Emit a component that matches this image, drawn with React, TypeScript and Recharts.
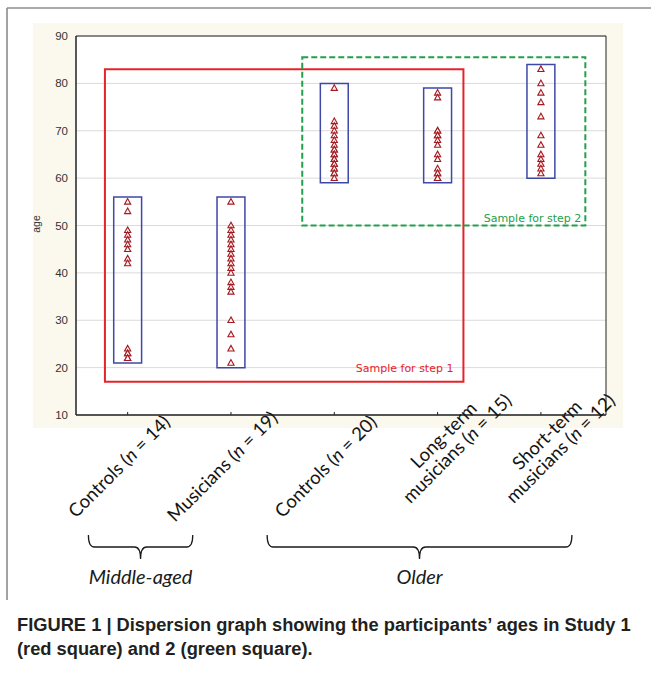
import React from "react";
import { ScatterChart, Scatter, XAxis, YAxis, CartesianGrid, ReferenceArea } from "recharts";

// ---- data ----
const groupPositions = [1, 2, 3, 4, 5];
const groupLabels: string[][] = [
  ["Controls (n = 14)"],
  ["Musicians (n = 19)"],
  ["Controls (n = 20)"],
  ["Long-term", "musicians (n = 15)"],
  ["Short-term", "musicians (n = 12)"],
];
const agesMiddleControls = [55, 53, 49, 48, 47, 46, 45, 43, 42, 24, 23, 23, 22, 22];
const agesMiddleMusicians = [55, 50, 49, 48, 47, 46, 45, 44, 43, 42, 41, 40, 38, 37, 36, 30, 27, 24, 21];
const agesOlderControls = [79, 72, 71, 70, 69, 68, 67, 66, 66, 65, 65, 64, 64, 63, 63, 62, 62, 61, 61, 60];
const agesLongTerm = [78, 77, 70, 70, 69, 69, 68, 67, 65, 64, 62, 61, 61, 60, 60];
const agesShortTerm = [83, 80, 78, 76, 73, 69, 67, 65, 64, 63, 62, 61];
const groupAges = [agesMiddleControls, agesMiddleMusicians, agesOlderControls, agesLongTerm, agesShortTerm];
const rangeLow = [21, 20, 59, 59, 60];
const rangeHigh = [56, 56, 80, 79, 84];
const yTicks = [10, 20, 30, 40, 50, 60, 70, 80, 90];
const xDomain = [0.5, 5.63];
const step1Box = { x1: 0.78, x2: 4.25, y1: 17, y2: 83 };
const step2Box = { x1: 2.69, x2: 5.43, y1: 50, y2: 85.5 };
const braceGroups = [
  { label: "Middle-aged", from: 0.62, to: 1.63 },
  { label: "Older", from: 2.35, to: 5.3 },
];

const BOX_HALF = 0.135;

const Triangle = (props: any) => {
  const { cx, cy } = props;
  if (cx == null || cy == null) return null;
  const pts = `${cx},${cy - 3.3} ${cx - 3.1},${cy + 2.3} ${cx + 3.1},${cy + 2.3}`;
  return <polygon points={pts} fill="#fff4f4" stroke="#a3191f" strokeWidth={1.1} />;
};

const renderLine = (line: string, key: number, x: number, y: number) => {
  const m = line.match(/^(.*\()n( = .*)$/);
  if (!m) {
    return (
      <tspan key={key} x={x} y={y}>
        {line}
      </tspan>
    );
  }
  return (
    <tspan key={key} x={x} y={y}>
      {m[1]}
      <tspan fontStyle="italic">n</tspan>
      {m[2]}
    </tspan>
  );
};

const XTick = (props: any) => {
  const { x, y, payload } = props;
  const idx = groupPositions.indexOf(payload.value);
  if (idx < 0) return null;
  const lines = groupLabels[idx];
  const axisY = y - 8;
  const two = lines.length > 1;
  const cx = x + (two ? 24 : -4);
  const cy = axisY + (two ? 38 : 56);
  return (
    <g>
      <line x1={x} x2={x} y1={axisY} y2={axisY - 3} stroke="#222" strokeWidth={1} />
      <text
        transform={`translate(${cx},${cy}) rotate(-45)`}
        textAnchor="middle"
        fontFamily="Lato, 'Open Sans', sans-serif"
        fontSize={18.5}
        fill="#141414"
      >
        {lines.map((l, i) => renderLine(l, i, 0, two ? (i - 1) * 19 : 0))}
      </text>
    </g>
  );
};

const W = 658;
const H = 682;
const M = { top: 36, right: 52, bottom: 237, left: 36 };
const PLOT_L = 76;
const PLOT_R = W - M.right;
const xScale = (v: number) => PLOT_L + ((v - xDomain[0]) / (xDomain[1] - xDomain[0])) * (PLOT_R - PLOT_L);

export default function App() {
  return (
    <div style={{ position: "absolute", left: 0, top: 0, width: W, height: H, background: "#fff" }}>
      <svg width={W} height={H} style={{ position: "absolute", left: 0, top: 0 }}>
        <rect x={33} y={23} width={590} height={405} fill="#fbf8ee" />
        <line x1={7} x2={7} y1={8} y2={600} stroke="#8c8c8c" strokeWidth={1.6} />
        <line x1={7} x2={651} y1={8} y2={8} stroke="#8c8c8c" strokeWidth={1.6} />
      </svg>
      <div style={{ position: "absolute", left: 0, top: 0 }}>
        <ScatterChart width={W} height={H} margin={M}>
          <CartesianGrid vertical={false} stroke="#dadada" fill="#ffffff" />
          <XAxis
            type="number"
            dataKey="x"
            domain={xDomain}
            ticks={groupPositions}
            height={30}
            axisLine={{ stroke: "#222" }}
            tickLine={false}
            tick={<XTick />}
            interval={0}
            allowDataOverflow
          />
          <YAxis
            type="number"
            dataKey="y"
            domain={[10, 90]}
            ticks={yTicks}
            width={40}
            axisLine={{ stroke: "#222" }}
            tickLine={false}
            tick={{ fill: "#333", fontSize: 11.5, fontFamily: "Arial, 'Liberation Sans', sans-serif" }}
            interval={0}
          />
          <ReferenceArea x1={xDomain[0]} x2={xDomain[1]} y1={10} y2={90} fill="none" stroke="#222" strokeWidth={1} ifOverflow="visible" />
          {groupPositions.map((p, i) => (
            <ReferenceArea
              key={`b${i}`}
              x1={p - BOX_HALF}
              x2={p + BOX_HALF}
              y1={rangeLow[i]}
              y2={rangeHigh[i]}
              fill="none"
              stroke="#3f48a6"
              strokeWidth={1.5}
              ifOverflow="visible"
            />
          ))}
          <ReferenceArea
            x1={step1Box.x1}
            x2={step1Box.x2}
            y1={step1Box.y1}
            y2={step1Box.y2}
            fill="none"
            stroke="#e3242b"
            strokeWidth={2}
            ifOverflow="visible"
            label={{ value: "Sample for step 1", position: "insideBottomRight", offset: 10, fill: "#e3242b", fontSize: 11, fontFamily: "Tahoma, 'DejaVu Sans', sans-serif" }}
          />
          <ReferenceArea
            x1={step2Box.x1}
            x2={step2Box.x2}
            y1={step2Box.y1}
            y2={step2Box.y2}
            fill="none"
            stroke="#22a04c"
            strokeWidth={2}
            strokeDasharray="6 3"
            ifOverflow="visible"
            label={{ value: "Sample for step 2", position: "insideBottomRight", offset: 4, fill: "#22a04c", fontSize: 11, fontFamily: "Tahoma, 'DejaVu Sans', sans-serif" }}
          />
          {groupAges.map((ages, i) => (
            <Scatter
              key={`s${i}`}
              data={ages.map((a) => ({ x: groupPositions[i], y: a }))}
              shape={<Triangle />}
              isAnimationActive={false}
            />
          ))}
        </ScatterChart>
      </div>
      <svg width={W} height={H} style={{ position: "absolute", left: 0, top: 0, pointerEvents: "none" }}>
        <text
          transform="translate(40,224) rotate(-90)"
          textAnchor="middle"
          fontSize={10.5}
          fontFamily="Arial, 'Liberation Sans', sans-serif"
          fill="#333"
        >
          age
        </text>
        {braceGroups.map((b, i) => {
          const x1 = xScale(b.from);
          const x2 = xScale(b.to);
          const c = (x1 + x2) / 2;
          const top = 535;
          const mid = 547;
          const bot = 559;
          const d = `M${x1},${top} Q${x1},${mid} ${x1 + 6},${mid} L${c - 6},${mid} Q${c},${mid} ${c},${bot} Q${c},${mid} ${c + 6},${mid} L${x2 - 6},${mid} Q${x2},${mid} ${x2},${top}`;
          return (
            <g key={i}>
              <path d={d} fill="none" stroke="#1a1a1a" strokeWidth={1.3} />
              <text x={c} y={584} textAnchor="middle" fontStyle="italic" fontSize={20} fontFamily="Lato, 'Open Sans', sans-serif" fill="#1a1a1a">
                {b.label}
              </text>
            </g>
          );
        })}
        <text x={17} y={631} fontWeight="bold" fontSize={18.3} fontFamily="Arial, 'Liberation Sans', sans-serif" fill="#231f20">
          FIGURE 1 | Dispersion graph showing the participants’ ages in Study 1
        </text>
        <text x={17} y={655} fontWeight="bold" fontSize={18.3} fontFamily="Arial, 'Liberation Sans', sans-serif" fill="#231f20">
          (red square) and 2 (green square).
        </text>
      </svg>
    </div>
  );
}
